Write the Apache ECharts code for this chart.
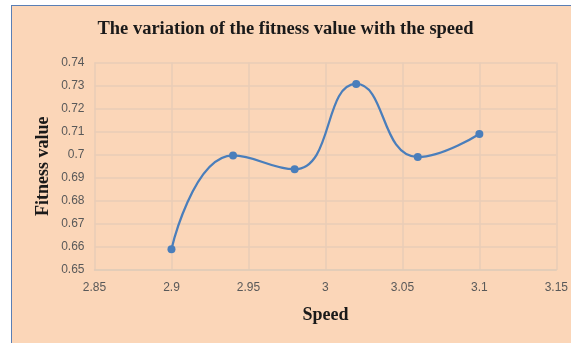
<!DOCTYPE html>
<html><head><meta charset="utf-8">
<script src="https://cdn.jsdelivr.net/npm/echarts@6/dist/echarts.min.js"></script>
<style>
html,body{margin:0;padding:0;background:#fff;}
#bg{position:absolute;left:11px;top:5px;width:570px;height:345px;background:#FBD6B8;border-left:1.5px solid #5A7FB5;border-top:1.5px solid #5A7FB5;}
#c{position:absolute;left:0;top:0;width:571px;height:343px;}
</style></head>
<body>
<div id="bg"></div>
<div id="c"></div>
<script>
const speeds = [2.9, 2.94, 2.98, 3.02, 3.06, 3.1];
const fitness = [0.659, 0.6997, 0.6937, 0.7307, 0.699, 0.709];
const titleText = 'The variation of the fitness value with the speed';
const xName = 'Speed';
const yName = 'Fitness value';

const chart = echarts.init(document.getElementById('c'), null, {renderer:'canvas'});
chart.setOption({
  backgroundColor: 'transparent',
  animation: false,
  title: {
    text: titleText, left: 'center', top: 15,
    textStyle: {fontFamily: 'Liberation Serif', fontWeight: 'bold', fontSize: 18.5, color: '#1a1a1a'}
  },
  grid: {left: 94.5, right: 14, top: 62.5, bottom: 73},
  xAxis: {
    type: 'value', min: 2.85, max: 3.15, interval: 0.05,
    name: xName, nameLocation: 'middle', nameGap: 36, nameMoveOverlap: false,
    nameTextStyle: {fontFamily: 'Liberation Serif', fontWeight: 'bold', fontSize: 18, color: '#1a1a1a'},
    axisLine: {show: true, lineStyle: {color: '#E0CBB8', width: 1.5}},
    axisTick: {show: false},
    axisLabel: {fontFamily: 'Liberation Sans', fontSize: 12, color: '#595959', margin: 12,
      formatter: v => +v.toFixed(2) + ''},
    splitLine: {show: true, lineStyle: {color: '#E8CDB7', width: 1.5}}
  },
  yAxis: {
    type: 'value', min: 0.65, max: 0.74, interval: 0.01,
    name: yName, nameLocation: 'middle', nameGap: 42, nameMoveOverlap: false,
    nameTextStyle: {fontFamily: 'Liberation Serif', fontWeight: 'bold', fontSize: 18, color: '#1a1a1a'},
    axisLine: {show: false},
    axisTick: {show: false},
    axisLabel: {fontFamily: 'Liberation Sans', fontSize: 12, color: '#595959', margin: 10,
      formatter: v => +v.toFixed(2) + ''},
    splitLine: {show: true, lineStyle: {color: '#E8CDB7', width: 1.5}}
  },
  series: [{
    type: 'line',
    data: speeds.map((s, i) => [s, fitness[i]]),
    smooth: 0.5,
    symbol: 'circle', symbolSize: 8,
    lineStyle: {color: '#4A7EBB', width: 2.25},
    itemStyle: {color: '#4A7EBB'}
  }]
});
</script>
</body></html>
